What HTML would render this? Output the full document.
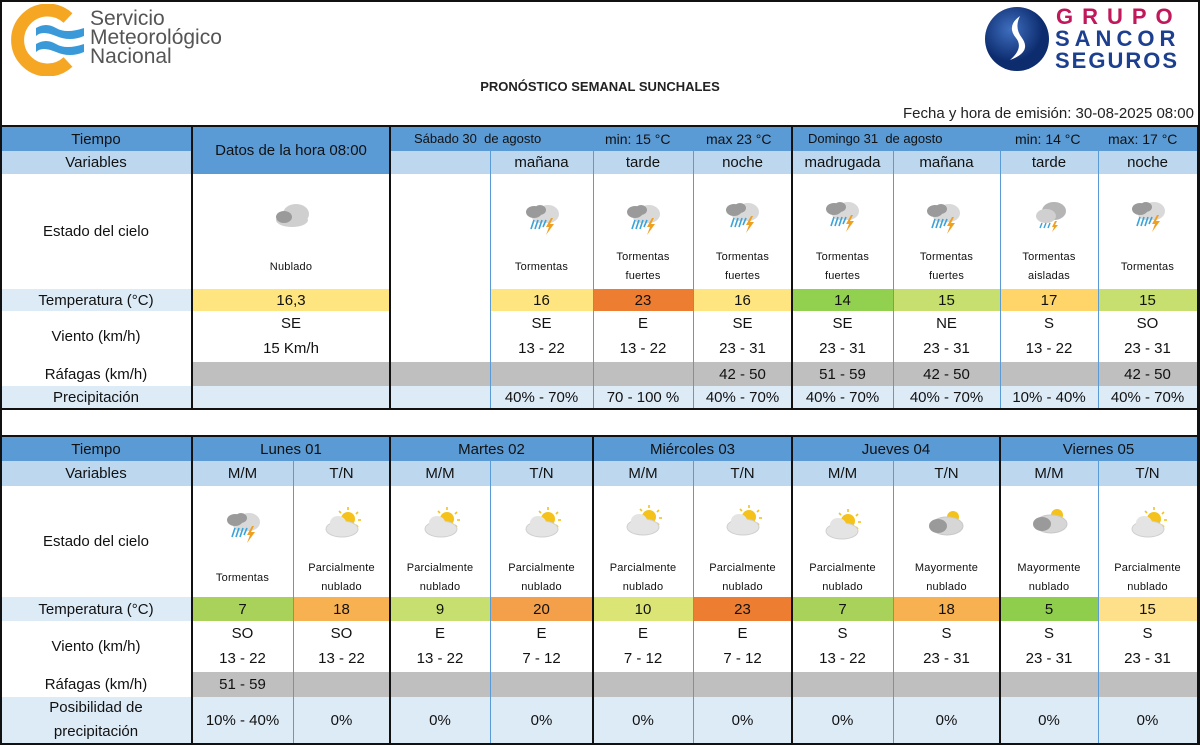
<!DOCTYPE html>
<html><head><meta charset="utf-8">
<style>
body{margin:0;width:1200px;height:745px;position:relative;overflow:hidden;background:#fff;font-family:"Liberation Sans",Arial,sans-serif;color:#111}
.c{position:absolute;display:flex;align-items:center;justify-content:center;text-align:center;box-sizing:border-box;font-size:15px;white-space:nowrap}
.hb{background:#5b9bd5}.lb{background:#bdd7ee}.pl{background:#ddebf7}.gr{background:#bfbfbf}
.vt{position:absolute;width:1px;background:#5b9bd5}
.vk{position:absolute;width:2px;background:#111}
.hk{position:absolute;height:2px;background:#111;left:0;width:1200px}
.cap{position:absolute;font-size:11px;text-align:center;line-height:19px;letter-spacing:0.2px}
.ic{position:absolute;width:44px;height:40px}
.w{position:absolute;text-align:center;font-size:15px;line-height:25px}
</style></head><body>
<svg width="0" height="0" style="position:absolute">
<defs>
<symbol id="st" viewBox="0 0 44 40">
<ellipse cx="28" cy="16" rx="11" ry="9" fill="#d9d9d9"/><ellipse cx="20" cy="19" rx="8" ry="6" fill="#d9d9d9"/>
<ellipse cx="14" cy="14" rx="8" ry="6" fill="#9a9a9a"/><ellipse cx="20" cy="12" rx="6" ry="5" fill="#9a9a9a"/>
<g stroke="#3ba3d9" stroke-width="1.6"><line x1="14" y1="22" x2="11" y2="31"/><line x1="18" y1="22" x2="15" y2="31"/><line x1="22" y1="22" x2="19" y2="31"/><line x1="26" y1="22" x2="23" y2="29"/></g>
<polygon points="31,20 26,29 29,29 26,37 34,26 30,26 33,20" fill="#f0a020"/>
</symbol>
<symbol id="pc" viewBox="0 0 44 40">
<circle cx="28" cy="15" r="7" fill="#f5c21b"/>
<g stroke="#f5c21b" stroke-width="1.6"><line x1="28" y1="3" x2="28" y2="6"/><line x1="38" y1="8" x2="36" y2="10"/><line x1="41" y1="16" x2="38" y2="16"/><line x1="19" y1="7" x2="21" y2="9"/><line x1="38" y1="23" x2="36" y2="21"/></g>
<ellipse cx="22" cy="25" rx="16" ry="8" fill="#e4e4e4" stroke="#cfcfcf"/><ellipse cx="18" cy="19" rx="8" ry="7" fill="#e4e4e4"/>
</symbol>
<symbol id="cl" viewBox="0 0 44 40">
<ellipse cx="26" cy="18" rx="13" ry="10" fill="#cfcfcf"/><ellipse cx="22" cy="24" rx="16" ry="7" fill="#cfcfcf"/>
<ellipse cx="14" cy="21" rx="8" ry="6" fill="#9a9a9a"/>
</symbol>
<symbol id="mc" viewBox="0 0 44 40">
<circle cx="30" cy="13" r="6" fill="#f5c21b"/>
<ellipse cx="24" cy="22" rx="16" ry="9" fill="#d6d6d6" stroke="#c8c8c8"/><ellipse cx="15" cy="22" rx="9" ry="7" fill="#9a9a9a"/>
</symbol>
<symbol id="ta" viewBox="0 0 44 40">
<ellipse cx="26" cy="15" rx="12" ry="9" fill="#b5b5b5"/><ellipse cx="18" cy="20" rx="10" ry="7" fill="#d0d0d0"/>
<g stroke="#3ba3d9" stroke-width="1.4"><line x1="14" y1="27" x2="12" y2="32"/><line x1="18" y1="27" x2="16" y2="32"/><line x1="22" y1="27" x2="20" y2="32"/></g>
<polygon points="27,25 24,31 26,31 24,36 30,29 27,29 29,25" fill="#f0a020"/>
</symbol>
</defs></svg>

<!-- SMN logo -->
<svg style="position:absolute;left:6px;top:4px" width="80" height="72" viewBox="0 0 80 72">
<path d="M62 14 A30 30 0 1 0 62 58" fill="none" stroke="#f5a623" stroke-width="13"/>
<path d="M30 24 q10 -6 20 0 t28 0 v8 q-14 6 -28 0 t-20 0z" fill="#3a9ad9"/>
<path d="M30 40 q10 -6 20 0 t28 0 v8 q-14 6 -28 0 t-20 0z" fill="#3a9ad9"/>
</svg>
<div style="position:absolute;left:90px;top:9px;font-size:21px;line-height:19px;color:#555">Servicio<br>Meteorológico<br>Nacional</div>

<!-- Sancor logo -->
<svg style="position:absolute;left:984px;top:6px" width="66" height="66" viewBox="0 0 66 66">
<defs><radialGradient id="g1" cx="40%" cy="35%"><stop offset="0" stop-color="#3f6fc0"/><stop offset="1" stop-color="#0d2c6e"/></radialGradient></defs>
<circle cx="33" cy="33" r="32" fill="url(#g1)"/>
<path d="M36 10 q-14 10 -4 22 q8 10 -6 22 q22 -8 12 -22 q-8 -10 -2 -22z" fill="#fff"/>
</svg>
<div style="position:absolute;left:1056px;top:6px;font-size:22px;font-weight:bold;letter-spacing:9px;color:#c0185a;line-height:22px">GRUPO</div>
<div style="position:absolute;left:1055px;top:28px;font-size:22px;font-weight:bold;letter-spacing:5px;color:#1d3f8f;line-height:22px">SANCOR</div>
<div style="position:absolute;left:1055px;top:50px;font-size:22px;font-weight:bold;letter-spacing:2px;color:#1d3f8f;line-height:22px">SEGUROS</div>

<div style="position:absolute;left:0;width:1200px;top:79px;text-align:center;font-size:13px;font-weight:bold;color:#222">PRONÓSTICO SEMANAL SUNCHALES</div>
<div style="position:absolute;right:6px;top:105px;font-size:15px;color:#222">Fecha y hora de emisión: 30-08-2025 08:00</div>

<!-- ===== TOP TABLE ===== -->
<div class="hk" style="top:125px"></div>
<div class="c hb" style="left:0;top:127px;width:192px;height:24px">Tiempo</div>
<div class="c lb" style="left:0;top:151px;width:192px;height:23px">Variables</div>
<div class="c hb" style="left:192px;top:127px;width:198px;height:47px">Datos de la hora 08:00</div>
<div class="c hb" style="left:390px;top:127px;width:402px;height:24px"></div>
<div class="c hb" style="left:792px;top:127px;width:405px;height:24px"></div>
<div style="position:absolute;left:414px;top:131px;font-size:13px">Sábado 30&nbsp; de agosto</div>
<div style="position:absolute;left:605px;top:131px;font-size:14px">min: 15 °C</div>
<div style="position:absolute;left:706px;top:131px;font-size:14px">max 23 °C</div>
<div style="position:absolute;left:808px;top:131px;font-size:13px">Domingo 31&nbsp; de agosto</div>
<div style="position:absolute;left:1015px;top:131px;font-size:14px">min: 14 °C</div>
<div style="position:absolute;left:1108px;top:131px;font-size:14px">max: 17 °C</div>
<div class="c lb" style="left:390px;top:151px;width:807px;height:23px"></div>
<div class="c" style="left:490px;top:151px;width:103px;height:23px">mañana</div>
<div class="c" style="left:593px;top:151px;width:100px;height:23px">tarde</div>
<div class="c" style="left:693px;top:151px;width:99px;height:23px">noche</div>
<div class="c" style="left:792px;top:151px;width:101px;height:23px">madrugada</div>
<div class="c" style="left:893px;top:151px;width:107px;height:23px">mañana</div>
<div class="c" style="left:1000px;top:151px;width:98px;height:23px">tarde</div>
<div class="c" style="left:1098px;top:151px;width:99px;height:23px">noche</div>

<div class="c" style="left:0;top:174px;width:192px;height:115px">Estado del cielo</div>
<svg class="ic" style="left:270px;top:196px"><use href="#cl" width="44" height="40"/></svg>
<div class="cap" style="left:192px;width:198px;top:258px">Nublado</div>
<svg class="ic" style="left:520px;top:198px"><use href="#st" width="44" height="40"/></svg>
<div class="cap" style="left:490px;width:103px;top:258px">Tormentas</div>
<svg class="ic" style="left:621px;top:198px"><use href="#st" width="44" height="40"/></svg>
<div class="cap" style="left:593px;width:100px;top:248px">Tormentas<br>fuertes</div>
<svg class="ic" style="left:720px;top:196px"><use href="#st" width="44" height="40"/></svg>
<div class="cap" style="left:693px;width:99px;top:248px">Tormentas<br>fuertes</div>
<svg class="ic" style="left:820px;top:195px"><use href="#st" width="44" height="40"/></svg>
<div class="cap" style="left:792px;width:101px;top:248px">Tormentas<br>fuertes</div>
<svg class="ic" style="left:921px;top:197px"><use href="#st" width="44" height="40"/></svg>
<div class="cap" style="left:893px;width:107px;top:248px">Tormentas<br>fuertes</div>
<svg class="ic" style="left:1028px;top:196px"><use href="#ta" width="44" height="40"/></svg>
<div class="cap" style="left:1000px;width:98px;top:248px">Tormentas<br>aisladas</div>
<svg class="ic" style="left:1126px;top:195px"><use href="#st" width="44" height="40"/></svg>
<div class="cap" style="left:1098px;width:99px;top:258px">Tormentas</div>

<div class="c pl" style="left:0;top:289px;width:192px;height:22px">Temperatura (°C)</div>
<div class="c" style="left:192px;top:289px;width:198px;height:22px;background:#ffe57f">16,3</div>
<div class="c" style="left:490px;top:289px;width:103px;height:22px;background:#ffe57f">16</div>
<div class="c" style="left:593px;top:289px;width:100px;height:22px;background:#ed7d31">23</div>
<div class="c" style="left:693px;top:289px;width:99px;height:22px;background:#ffe57f">16</div>
<div class="c" style="left:792px;top:289px;width:101px;height:22px;background:#92d050">14</div>
<div class="c" style="left:893px;top:289px;width:107px;height:22px;background:#c6df6f">15</div>
<div class="c" style="left:1000px;top:289px;width:98px;height:22px;background:#ffd469">17</div>
<div class="c" style="left:1098px;top:289px;width:99px;height:22px;background:#c6df6f">15</div>

<div class="c" style="left:0;top:311px;width:192px;height:51px">Viento (km/h)</div>
<div class="w" style="left:192px;width:198px;top:311px">SE<br>15 Km/h</div>
<div class="w" style="left:490px;width:103px;top:311px">SE<br>13 - 22</div>
<div class="w" style="left:593px;width:100px;top:311px">E<br>13 - 22</div>
<div class="w" style="left:693px;width:99px;top:311px">SE<br>23 - 31</div>
<div class="w" style="left:792px;width:101px;top:311px">SE<br>23 - 31</div>
<div class="w" style="left:893px;width:107px;top:311px">NE<br>23 - 31</div>
<div class="w" style="left:1000px;width:98px;top:311px">S<br>13 - 22</div>
<div class="w" style="left:1098px;width:99px;top:311px">SO<br>23 - 31</div>

<div class="c" style="left:0;top:362px;width:192px;height:24px">Ráfagas (km/h)</div>
<div class="c gr" style="left:192px;top:362px;width:1005px;height:24px"></div>
<div class="c" style="left:693px;top:362px;width:99px;height:24px">42 - 50</div>
<div class="c" style="left:792px;top:362px;width:101px;height:24px">51 - 59</div>
<div class="c" style="left:893px;top:362px;width:107px;height:24px">42 - 50</div>
<div class="c" style="left:1098px;top:362px;width:99px;height:24px">42 - 50</div>

<div class="c pl" style="left:0;top:386px;width:1197px;height:23px"></div>
<div class="c" style="left:0;top:386px;width:192px;height:23px">Precipitación</div>
<div class="c" style="left:490px;top:386px;width:103px;height:23px">40% - 70%</div>
<div class="c" style="left:593px;top:386px;width:100px;height:23px">70 - 100 %</div>
<div class="c" style="left:693px;top:386px;width:99px;height:23px">40% - 70%</div>
<div class="c" style="left:792px;top:386px;width:101px;height:23px">40% - 70%</div>
<div class="c" style="left:893px;top:386px;width:107px;height:23px">40% - 70%</div>
<div class="c" style="left:1000px;top:386px;width:98px;height:23px">10% - 40%</div>
<div class="c" style="left:1098px;top:386px;width:99px;height:23px">40% - 70%</div>

<div class="vt" style="left:490px;top:151px;height:258px"></div>
<div class="vt" style="left:593px;top:151px;height:258px"></div>
<div class="vt" style="left:693px;top:151px;height:258px"></div>
<div class="vt" style="left:893px;top:151px;height:258px"></div>
<div class="vt" style="left:1000px;top:151px;height:258px"></div>
<div class="vt" style="left:1098px;top:151px;height:258px"></div>
<div class="vk" style="left:191px;top:125px;height:285px"></div>
<div class="vk" style="left:389px;top:125px;height:285px"></div>
<div class="vk" style="left:791px;top:125px;height:285px"></div>
<div class="hk" style="top:408px"></div>
<div class="hk" style="top:435px"></div>

<!-- ===== BOTTOM TABLE ===== -->
<div class="c hb" style="left:0;top:437px;width:192px;height:24px">Tiempo</div>
<div class="c lb" style="left:0;top:461px;width:192px;height:25px">Variables</div>
<div class="c hb" style="left:192px;top:437px;width:198px;height:24px">Lunes 01</div>
<div class="c hb" style="left:390px;top:437px;width:203px;height:24px">Martes 02</div>
<div class="c hb" style="left:593px;top:437px;width:199px;height:24px">Miércoles 03</div>
<div class="c hb" style="left:792px;top:437px;width:208px;height:24px">Jueves 04</div>
<div class="c hb" style="left:1000px;top:437px;width:197px;height:24px">Viernes 05</div>
<div class="c lb" style="left:192px;top:461px;width:1005px;height:25px"></div>
<div class="c" style="left:192px;top:461px;width:101px;height:25px">M/M</div>
<div class="c" style="left:293px;top:461px;width:97px;height:25px">T/N</div>
<div class="c" style="left:390px;top:461px;width:100px;height:25px">M/M</div>
<div class="c" style="left:490px;top:461px;width:103px;height:25px">T/N</div>
<div class="c" style="left:593px;top:461px;width:100px;height:25px">M/M</div>
<div class="c" style="left:693px;top:461px;width:99px;height:25px">T/N</div>
<div class="c" style="left:792px;top:461px;width:101px;height:25px">M/M</div>
<div class="c" style="left:893px;top:461px;width:107px;height:25px">T/N</div>
<div class="c" style="left:1000px;top:461px;width:98px;height:25px">M/M</div>
<div class="c" style="left:1098px;top:461px;width:99px;height:25px">T/N</div>

<div class="c" style="left:0;top:486px;width:192px;height:111px">Estado del cielo</div>
<svg class="ic" style="left:221px;top:506px"><use href="#st" width="44" height="40"/></svg>
<div class="cap" style="left:192px;width:101px;top:569px">Tormentas</div>
<svg class="ic" style="left:320px;top:504px"><use href="#pc" width="44" height="40"/></svg>
<div class="cap" style="left:293px;width:97px;top:559px">Parcialmente<br>nublado</div>
<svg class="ic" style="left:419px;top:504px"><use href="#pc" width="44" height="40"/></svg>
<div class="cap" style="left:390px;width:100px;top:559px">Parcialmente<br>nublado</div>
<svg class="ic" style="left:520px;top:504px"><use href="#pc" width="44" height="40"/></svg>
<div class="cap" style="left:490px;width:103px;top:559px">Parcialmente<br>nublado</div>
<svg class="ic" style="left:621px;top:502px"><use href="#pc" width="44" height="40"/></svg>
<div class="cap" style="left:593px;width:100px;top:559px">Parcialmente<br>nublado</div>
<svg class="ic" style="left:721px;top:502px"><use href="#pc" width="44" height="40"/></svg>
<div class="cap" style="left:693px;width:99px;top:559px">Parcialmente<br>nublado</div>
<svg class="ic" style="left:820px;top:506px"><use href="#pc" width="44" height="40"/></svg>
<div class="cap" style="left:792px;width:101px;top:559px">Parcialmente<br>nublado</div>
<svg class="ic" style="left:923px;top:504px"><use href="#mc" width="44" height="40"/></svg>
<div class="cap" style="left:893px;width:107px;top:559px">Mayormente<br>nublado</div>
<svg class="ic" style="left:1027px;top:502px"><use href="#mc" width="44" height="40"/></svg>
<div class="cap" style="left:1000px;width:98px;top:559px">Mayormente<br>nublado</div>
<svg class="ic" style="left:1126px;top:504px"><use href="#pc" width="44" height="40"/></svg>
<div class="cap" style="left:1098px;width:99px;top:559px">Parcialmente<br>nublado</div>

<div class="c pl" style="left:0;top:597px;width:192px;height:24px">Temperatura (°C)</div>
<div class="c" style="left:192px;top:597px;width:101px;height:24px;background:#a9d25a">7</div>
<div class="c" style="left:293px;top:597px;width:97px;height:24px;background:#f7b150">18</div>
<div class="c" style="left:390px;top:597px;width:100px;height:24px;background:#c6df6f">9</div>
<div class="c" style="left:490px;top:597px;width:103px;height:24px;background:#f4a04a">20</div>
<div class="c" style="left:593px;top:597px;width:100px;height:24px;background:#dbe575">10</div>
<div class="c" style="left:693px;top:597px;width:99px;height:24px;background:#ed7d31">23</div>
<div class="c" style="left:792px;top:597px;width:101px;height:24px;background:#a9d25a">7</div>
<div class="c" style="left:893px;top:597px;width:107px;height:24px;background:#f7b150">18</div>
<div class="c" style="left:1000px;top:597px;width:98px;height:24px;background:#8fce4c">5</div>
<div class="c" style="left:1098px;top:597px;width:99px;height:24px;background:#ffe08a">15</div>

<div class="c" style="left:0;top:621px;width:192px;height:51px">Viento (km/h)</div>
<div class="w" style="left:192px;width:101px;top:621px">SO<br>13 - 22</div>
<div class="w" style="left:293px;width:97px;top:621px">SO<br>13 - 22</div>
<div class="w" style="left:390px;width:100px;top:621px">E<br>13 - 22</div>
<div class="w" style="left:490px;width:103px;top:621px">E<br>7 - 12</div>
<div class="w" style="left:593px;width:100px;top:621px">E<br>7 - 12</div>
<div class="w" style="left:693px;width:99px;top:621px">E<br>7 - 12</div>
<div class="w" style="left:792px;width:101px;top:621px">S<br>13 - 22</div>
<div class="w" style="left:893px;width:107px;top:621px">S<br>23 - 31</div>
<div class="w" style="left:1000px;width:98px;top:621px">S<br>23 - 31</div>
<div class="w" style="left:1098px;width:99px;top:621px">S<br>23 - 31</div>

<div class="c" style="left:0;top:672px;width:192px;height:25px">Ráfagas (km/h)</div>
<div class="c gr" style="left:192px;top:672px;width:1005px;height:25px"></div>
<div class="c" style="left:192px;top:672px;width:101px;height:25px">51 - 59</div>

<div class="c pl" style="left:0;top:697px;width:1197px;height:46px"></div>
<div class="c" style="left:0;top:697px;width:192px;height:46px;line-height:24px;white-space:normal">Posibilidad de<br>precipitación</div>
<div class="c" style="left:192px;top:697px;width:101px;height:46px">10% - 40%</div>
<div class="c" style="left:293px;top:697px;width:97px;height:46px">0%</div>
<div class="c" style="left:390px;top:697px;width:100px;height:46px">0%</div>
<div class="c" style="left:490px;top:697px;width:103px;height:46px">0%</div>
<div class="c" style="left:593px;top:697px;width:100px;height:46px">0%</div>
<div class="c" style="left:693px;top:697px;width:99px;height:46px">0%</div>
<div class="c" style="left:792px;top:697px;width:101px;height:46px">0%</div>
<div class="c" style="left:893px;top:697px;width:107px;height:46px">0%</div>
<div class="c" style="left:1000px;top:697px;width:98px;height:46px">0%</div>
<div class="c" style="left:1098px;top:697px;width:99px;height:46px">0%</div>

<div class="vt" style="left:293px;top:461px;height:284px"></div>
<div class="vt" style="left:490px;top:461px;height:284px"></div>
<div class="vt" style="left:693px;top:461px;height:284px"></div>
<div class="vt" style="left:893px;top:461px;height:284px"></div>
<div class="vt" style="left:1098px;top:461px;height:284px"></div>
<div class="vk" style="left:191px;top:435px;height:310px"></div>
<div class="vk" style="left:389px;top:435px;height:310px"></div>
<div class="vk" style="left:592px;top:435px;height:310px"></div>
<div class="vk" style="left:791px;top:435px;height:310px"></div>
<div class="vk" style="left:999px;top:435px;height:310px"></div>
<div class="vk" style="left:1197px;top:125px;height:620px"></div>

<!-- outer frame on top -->
<div style="position:absolute;left:0;top:0;width:1196px;height:741px;border:2px solid #111"></div>
</body></html>
